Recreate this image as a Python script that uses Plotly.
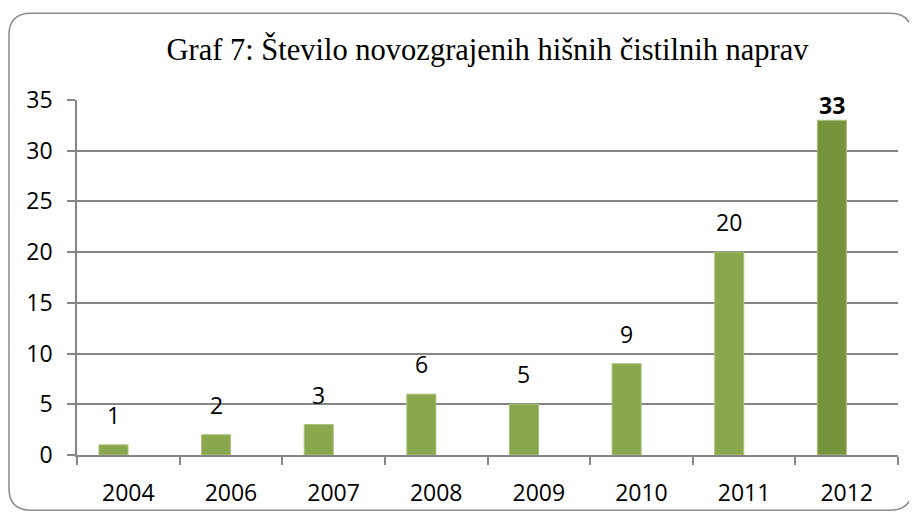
import plotly.graph_objects as go

# ---- data ----
years = ["2004", "2006", "2007", "2008", "2009", "2010", "2011", "2012"]
counts = [1, 2, 3, 6, 5, 9, 20, 33]
title_text = "Graf 7: Število novozgrajenih hišnih čistilnih naprav"

# ---- styling ----
# The page body has an 8px default margin, so the figure is sized and laid out
# to land on the reference's pixel positions inside the 917x520 window.
OFF = 8
W, H = 917 - OFF, 520 - OFF
ML, MR, MT, MB = 77 - OFF, 19, 100 - OFF, 60
light = "#8BA74E"
dark = "#77933C"
grid = "#868686"
tick_font = dict(family="Open Sans, DejaVu Sans, sans-serif", size=23, color="#000000")

peak = max(counts)
colors = [dark if v == peak else light for v in counts]

fig = go.Figure()
fig.add_trace(go.Bar(
    x=years, y=counts,
    width=0.283, offset=-0.286,
    marker=dict(color=colors, line=dict(color="#A8C277", width=1)),
    hoverinfo="x+y",
))

ymax = 35
px_per_unit = (H - MT - MB) / ymax
cat_px = (W - ML - MR) / len(years)
for i, v in enumerate(counts):
    room = (ymax - v) * px_per_unit
    ysh = 12 if room > 30 else -3
    fig.add_annotation(
        x=i, y=v, text=f"<b>{v}</b>" if v == peak else str(v),
        showarrow=False, yanchor="bottom", xanchor="center",
        xshift=-0.1445 * cat_px, yshift=ysh,
        font=tick_font,
    )

# rounded frame around the whole chart, in pixel -> paper coords
def px2x(p):
    return (p - ML) / (W - ML - MR)

def px2y(p):
    return (H - MB - p) / (H - MT - MB)

x0, x1, y0, y1, r = 8 - OFF + 1, 912 - OFF, 12 - OFF, 516 - OFF, 22
path = (
    f"M {px2x(x0 + r)} {px2y(y0)} L {px2x(x1 - r)} {px2y(y0)} "
    f"Q {px2x(x1)} {px2y(y0)} {px2x(x1)} {px2y(y0 + r)} "
    f"L {px2x(x1)} {px2y(y1 - r)} "
    f"Q {px2x(x1)} {px2y(y1)} {px2x(x1 - r)} {px2y(y1)} "
    f"L {px2x(x0 + r)} {px2y(y1)} "
    f"Q {px2x(x0)} {px2y(y1)} {px2x(x0)} {px2y(y1 - r)} "
    f"L {px2x(x0)} {px2y(y0 + r)} "
    f"Q {px2x(x0)} {px2y(y0)} {px2x(x0 + r)} {px2y(y0)} Z"
)
fig.add_shape(type="path", path=path, xref="paper", yref="paper",
              line=dict(color="#8C8C8C", width=1.5), layer="above")

fig.update_layout(
    width=W, height=H,
    margin=dict(l=ML, r=MR, t=MT, b=MB, pad=0),
    paper_bgcolor="white", plot_bgcolor="white",
    showlegend=False,
    title=dict(text=title_text, x=0.5, xref="paper", xanchor="center",
               y=(H - (49 - OFF)) / H, yanchor="middle",
               font=dict(family="Liberation Serif, DejaVu Serif, serif", size=30.5, color="#000000")),
    font=tick_font,
)
fig.update_xaxes(
    type="category", range=[-0.5, len(years) - 0.5], autorange=False,
    showline=True, linecolor=grid, linewidth=1.5,
    ticks="outside", tickson="boundaries", ticklen=8, tickcolor=grid, tickwidth=1.5,
    showgrid=False, tickfont=tick_font, ticklabelstandoff=17,
)
fig.update_yaxes(
    range=[0, ymax], autorange=False, dtick=5, showline=True, linecolor=grid, linewidth=1.5,
    ticks="outside", ticklen=8, tickcolor=grid, tickwidth=1.5,
    showgrid=True, gridcolor=grid, gridwidth=1.5, zeroline=False,
    tickfont=tick_font, ticklabelstandoff=10,
)

fig.write_html("out.html")
